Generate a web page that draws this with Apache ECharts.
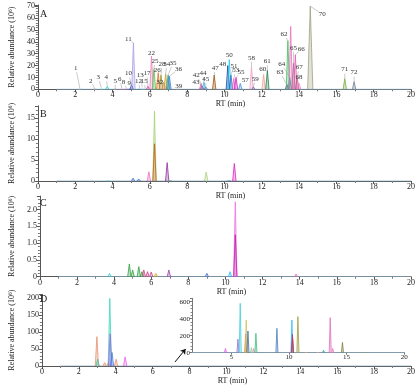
<!DOCTYPE html>
<html><head><meta charset="utf-8">
<script src="https://cdn.jsdelivr.net/npm/echarts@6/dist/echarts.min.js"></script>
<style>html,body{margin:0;padding:0;background:#fff}#c{width:419px;height:386px}</style>
</head><body><div id="c"></div>
<script>
// ---------- DATA ----------
// Panel A: retention time (min), relative abundance (10^6), peak label
const rtA = [2.25,3.05,3.4,3.72,4.15,4.5,4.75,4.95,5.02,5.12,5.45,5.6,5.75,5.9,6.09,6.22,6.45,6.6,6.75,6.85,6.98,7.05,7.5,8.75,8.8,8.9,9.0,9.45,10.18,10.26,10.35,10.5,10.62,10.85,11.45,11.55,12.1,12.3,13.35,13.4,13.5,13.55,13.7,13.8,13.9,14.0,14.6,16.45,16.95];
const hA  = [0.8,0.5,1.0,2.5,0.5,1.0,0.8,1.5,4,39,1,1.5,1,2.5,28,17,14,12,6,13,12,11,0.3,5,3,6,2,12,20,25,12,9,10,5,19,2,12.5,16,4,41,10,53,22,29,10,5,70,9,6.5];
const labelA = ['1','2','3','4','5','6','8','9','10','11','12','13','15','17','22','25','26','28','32','34','35','36','39','42','43','44','45','47','48','50','51','53','55','57','58','59','60','61','63','62','64','','65','66','67','68','70','71','72'];
// Panel B
const rtB = [3.75,5.1,5.4,5.95,6.25,6.25,6.93,7.1,9.02,10.25,10.53];
const hB  = [0.2,0.7,0.5,2.2,16.7,8.9,4.4,0.3,2.15,0.2,4.2];
// Panel C
const rtC = [3.75,4.82,5.0,5.33,5.5,5.6,5.8,6.0,6.25,6.95,9.0,10.25,10.53,10.53,13.8,14.6,16.95];
const hC  = [0.1,0.38,0.2,0.3,0.15,0.2,0.15,0.14,0.1,0.2,0.1,0.15,2.23,1.25,0.08,0.04,0.04];
// Panel D (main)
const rtD = [2.98,3.02,3.4,3.6,3.68,3.7,3.8,4.02,4.51];
const hD  = [86.8,20,10,10,200,95,40,20,27];
// Panel D (inset)
const rtDi = [4.5,5.58,5.78,6.25,6.3,6.45,6.75,6.95,7.14,8.96,10.26,10.3,10.32,10.78,11.5,12.5,13.0,13.58,13.8,14.64,16.4,17.0];
const hDi  = [50,160,581,220,385,255,60,50,228,287,385,216,180,424,20,20,30,412,50,122,10,8];
// Tick labels
const insetTicks = [5,10,15,20];

// ---------- STYLES ----------
const colorA = ['#7fb8e0','#999999','#50c8d8','#30d0e0','#a0a0a0','#e070b0','#9060c0','#304090','#3060c0','#a8a0e8','#30a0a0','#80b0e0','#60b060','#d040c0','#f080b8','#50c050','#e07020','#909030','#e08850','#d0a020','#20a0a0','#4080d0','#a0a0a0','#e060a0','#9050b0','#40b0e0','#6080a0','#a05010','#2040a0','#20c8f0','#3070c0','#f060c0','#d020c0','#5090e0','#f0a0c8','#8060a0','#f0a090','#208050','#8050a0','#40c060','#30a090','#f070c0','#b06090','#e060b0','#c06080','#f080d0','#a0a080','#70b040','#708090'];
const labelOffsetA = [[-4,-20],[-4,-8],[-3,-11],[-1,-9],[0,-8],[-2,-9],[-3,-6],[-1,-4],[-3,-11],[-5,-4],[-1,-7],[-2,-12],[-1,-7],[-1,-13],[0,-3],[1,-8],[-1,-3],[1,-11],[-4,0],[1,-10],[5,-12],[9,-7],[1,-3],[-5,-8],[-6,-4],[-1,-9],[0,-8],[1,-7],[-5,-1],[0,-4],[3,-9],[2,-8],[5,-5],[5,-3],[0,-9],[2,-8],[-1,-5],[0,-9],[-7,-12],[-4,-6],[-8,-13],[0,0],[0,-15],[6,-6],[2,-10],[0,-6],[12,8],[0,-9],[0,-9]];
const colorB = ['#40d0e0','#4070d0','#4070d0','#f070c0','#a8d070','#c0601a','#9030a0','#40a060','#b0d080','#4070d0','#e020c0'];
const colorC = ['#40d0e0','#30a040','#30a040','#30a040','#30a040','#d04080','#d04080','#d04080','#d0b020','#a040b0','#4070d0','#30c0f0','#f070e0','#c020b0','#e070c0','#999999','#999999'];
const colorD = ['#e89070','#40c0a0','#e89070','#e89070','#40d8c0','#a060e0','#4080e0','#e89070','#f060f0'];
const colorDi = ['#e060e0','#a070d0','#40d0e0','#e08030','#d0c060','#4070b0','#90d090','#f090c0','#40c080','#5080c0','#30c0f0','#8040a0','#d04040','#a0a040','#f0a060','#f0a090','#40a0a0','#e070c0','#f080c0','#808040','#60b040','#999999'];
const HW = 0.09;
const WIDE_A = {'70':0.14};
const FONT = 'Liberation Serif';
const TXT = '#222';
const AX = '#555';

function peakSeries(rts, hs, colors, idx, hwFn) {
  return rts.map((rt, i) => {
    const hw = hwFn ? hwFn(i) : HW;
    return {
      type:'line', xAxisIndex:idx, yAxisIndex:idx, symbol:'none', silent:true, animation:false, z:2,
      data:[[rt-hw,0],[rt,hs[i]],[rt+hw,0]],
      lineStyle:{color:colors[i], width:0.8},
      areaStyle:{color:colors[i], opacity:0.3}
    };
  });
}
function baseline(idx, extra) {
  return Object.assign({type:'line', xAxisIndex:idx, yAxisIndex:idx, symbol:'none', silent:true, animation:false, z:1,
    data:[[1,0],[20,0]], lineStyle:{color:'#8ab0c8', width:0.8}}, extra||{});
}
function xAxis(idx) {
  return {type:'value', gridIndex:idx, min:0, max:20, interval:2,
    axisLine:{show:true, onZero:false, lineStyle:{color:AX, width:1}},
    axisTick:{show:true, length:3, lineStyle:{color:AX}},
    minorTick:{show:true, splitNumber:2, length:2, lineStyle:{color:'#777'}},
    splitLine:{show:false},
    axisLabel:{fontFamily:FONT, fontSize:8, color:TXT, margin:2},
    name:'RT (min)', nameLocation:'middle', nameGap:11,
    nameTextStyle:{fontFamily:FONT, fontSize:8, color:TXT, padding:[0,0,0,12]}};
}
function onStep(v, step) { const k = v/step; return Math.abs(k-Math.round(k)) < 1e-6; }
function yAxis(idx, max, interval, decimals) {
  return {type:'value', gridIndex:idx, min:0, max:max, interval:interval,
    axisLine:{show:true, lineStyle:{color:AX, width:1}},
    axisTick:{show:true, length:3, lineStyle:{color:AX}},
    minorTick:{show:true, splitNumber:5, length:2, lineStyle:{color:'#777'}},
    splitLine:{show:false},
    axisLabel:{fontFamily:FONT, fontSize:8, color:TXT, margin:3,
      formatter: v => !onStep(v, interval) ? '' : (v===0 ? '0' : (decimals ? v.toFixed(decimals) : String(v)))},
    name:'Relative abundance (10\u2076)', nameLocation:'middle', nameGap:17, nameRotate:90,
    nameTextStyle:{fontFamily:FONT, fontSize:8, color:TXT}};
}

const labelIdx = labelA.map((t,i)=>t?i:-1).filter(i=>i>=0);
const labelSeries = {
  type:'custom', xAxisIndex:0, yAxisIndex:0, silent:true, animation:false, z:5,
  encode:{x:0, y:1},
  data: labelIdx.map(i => [rtA[i], hA[i], i]),
  renderItem: (params, api) => {
    const i = api.value(2);
    const p = api.coord([api.value(0), api.value(1)]);
    const o = labelOffsetA[i];
    const lx = p[0]+o[0], ly = p[1]+o[1];
    const children = [{type:'text', style:{text:labelA[i], x:lx, y:ly, fill:'#333',
      font:'7px "Liberation Serif"', align:'center', verticalAlign:'middle'}}];
    const d = Math.hypot(o[0], o[1]);
    if (d > 6) {
      const ux = -o[0]/d, uy = -o[1]/d;
      children.push({type:'line', shape:{x1:lx+ux*4, y1:ly+uy*4, x2:p[0], y2:p[1]},
        style:{stroke:'#999', lineWidth:0.5}});
    }
    return {type:'group', children};
  }
};

const grids = [
  {left:31, right:8, top:5, bottom:296.7},
  {left:31, right:8, top:105.8, bottom:205},
  {left:31, right:8, top:196.1, bottom:109.3},
  {left:31, right:8, top:294.3, bottom:20},
  {left:192, right:14.7, top:298.3, bottom:33.3}
];
const xAxes = [xAxis(0), xAxis(1), xAxis(2), xAxis(3),
  {type:'value', gridIndex:4, min:1.6, max:20,
    axisLine:{show:true, onZero:false, lineStyle:{color:'#777', width:1}},
    axisTick:{show:true, length:2, customValues:insetTicks, lineStyle:{color:'#777'}},
    axisLabel:{fontFamily:FONT, fontSize:7, color:TXT, margin:1, customValues:insetTicks},
    splitLine:{show:false}}];
const yAxes = [
  yAxis(0, 71, 10),
  yAxis(1, 18, 5),
  yAxis(2, 2.4, 0.5, 1),
  yAxis(3, 212, 50),
  {type:'value', gridIndex:4, min:0, max:640, interval:200,
    axisLine:{show:true, lineStyle:{color:'#777', width:1}},
    axisTick:{show:true, length:2, lineStyle:{color:'#777'}},
    minorTick:{show:true, splitNumber:5, length:1.5, lineStyle:{color:'#888'}},
    splitLine:{show:false},
    axisLabel:{fontFamily:FONT, fontSize:7, color:TXT, margin:2,
      formatter: v => onStep(v, 200) ? String(v) : ''}}
];

const series = [
  baseline(0), baseline(1), baseline(2),
  baseline(3, {markLine:{silent:true, animation:false, symbol:['none','arrow'], symbolSize:5,
    label:{show:false}, lineStyle:{color:'#111', width:1, type:'solid'},
    data:[[{coord:[7.21,11.8]},{coord:[7.79,50.3]}]]}}),
  baseline(4, {data:[[1.6,0],[20,0]]}),
  ...peakSeries(rtA, hA, colorA, 0, i => WIDE_A[labelA[i]] || HW),
  ...peakSeries(rtB, hB, colorB, 1),
  ...peakSeries(rtC, hC, colorC, 2),
  ...peakSeries(rtD, hD, colorD, 3),
  ...peakSeries(rtDi, hDi, colorDi, 4),
  labelSeries
];

const titles = [['A',4],['B',104],['C',193],['D',289]].map(([t,top]) => ({
  text:t, left:35, top:top, textStyle:{fontFamily:FONT, fontSize:10, fontWeight:'normal', color:TXT}}));

const chart = echarts.init(document.getElementById('c'), null, {renderer:'canvas'});
chart.setOption({
  animation:false, backgroundColor:'#fff',
  title: titles,
  grid: grids, xAxis: xAxes, yAxis: yAxes, series: series
});
</script></body></html>
